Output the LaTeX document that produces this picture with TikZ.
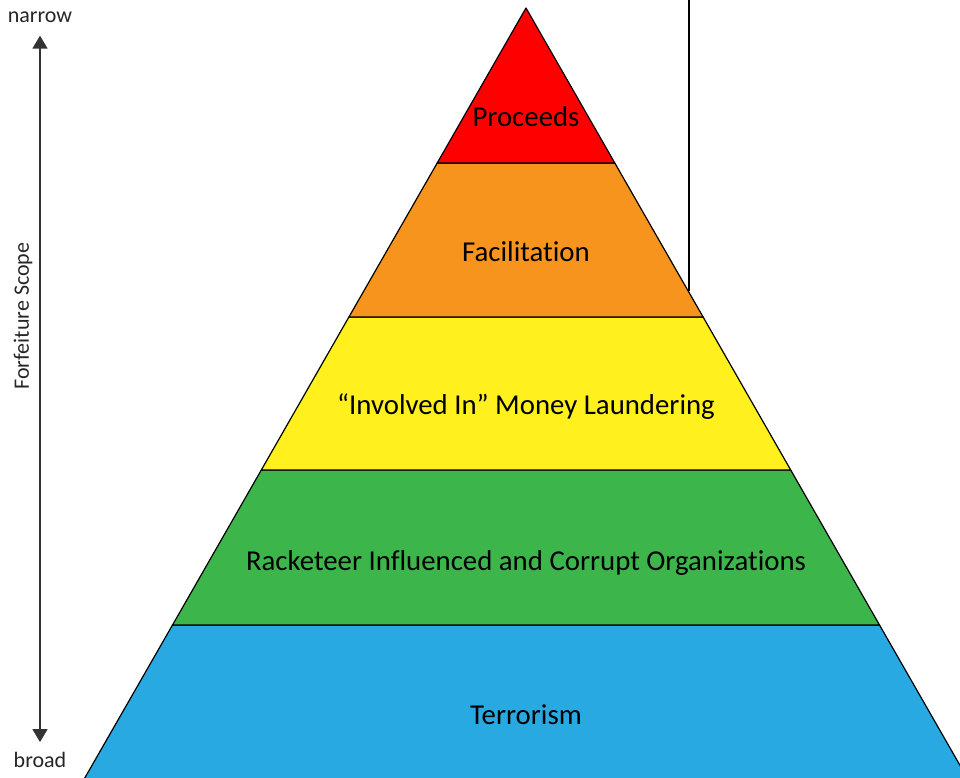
\documentclass[tikz,border=0pt]{standalone}
\usepackage{fontspec}
\setmainfont{Carlito}[Ligatures=NoCommon, RawFeature={-clig}]
\usetikzlibrary{arrows.meta}
\definecolor{tierred}{RGB}{255,0,0}
\definecolor{tierorange}{RGB}{247,148,29}
\definecolor{tieryellow}{RGB}{255,240,30}
\definecolor{tiergreen}{RGB}{60,181,74}
\definecolor{tierblue}{RGB}{41,169,225}
\tikzset{
	tier/.style={draw=black, line width=1.2pt, line join=round},
	tierlabel/.style={font=\fontsize{28.8}{32}\selectfont, text=black},
	scopelabel/.style={font=\fontsize{22}{26}\selectfont, text=black!85, inner sep=1pt}
}
\begin{document}
\begin{tikzpicture}[x=1pt, y=-1pt]
	\useasboundingbox (0,0) rectangle (960,777);
	\begin{scope}
	\clip (0,0) rectangle (960,777);
	\draw[tier, fill=tierblue] (172.5,625) -- (879.5,625) -- (968.4,780) -- (83.6,780) -- cycle;
	\draw[tier, fill=tiergreen] (261.3,470) -- (790.7,470) -- (879.5,625) -- (172.5,625) -- cycle;
	\draw[tier, fill=tieryellow] (348.9,317) -- (703.1,317) -- (790.7,470) -- (261.3,470) -- cycle;
	\draw[tier, fill=tierorange] (437.2,163) -- (614.8,163) -- (703.1,317) -- (348.9,317) -- cycle;
	\draw[tier, fill=tierred] (526,8) -- (614.8,163) -- (437.2,163) -- cycle;
	\end{scope}
	\node[tierlabel] (proceeds) at (526,117) {Proceeds};
	\node[tierlabel] (facilitation) at (526,252) {Facilitation};
	\node[tierlabel] (involved) at (526,407) {“Involved In” Money Laundering};
	\node[tierlabel] (rico) at (526,563) {Racketeer Influenced and Corrupt Organizations};
	\node[tierlabel] (terrorism) at (526,715) {Terrorism};
	% marker line down to the pyramid edge
	\coordinate (linetop) at (689,0);
	\coordinate (lineend) at (689,291);
	\draw[line width=2pt] (linetop) -- (lineend);
	% scope arrow
	\node[scopelabel] (narrow) at (40,17) {narrow};
	\node[scopelabel] (broad) at (40,760) {broad};
	\draw[black!80, line width=1.6pt, {Triangle[length=13pt, width=15pt]}-{Triangle[length=13pt, width=15pt]}]
		([yshift=-12pt]narrow.south) -- ([yshift=9pt]broad.north);
	\node[scopelabel, rotate=90] (scope) at (23,316) {Forfeiture Scope};
\end{tikzpicture}
\end{document}
